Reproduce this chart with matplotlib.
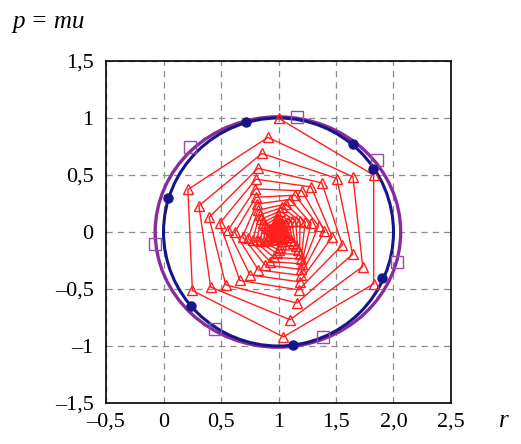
import numpy as np
import matplotlib
matplotlib.use("Agg")
import matplotlib.pyplot as plt
from matplotlib.patches import Circle, Ellipse

# Ejes y etiquetas
x_ticks = [-0.5, 0, 0.5, 1, 1.5, 2.0, 2.5]
x_labels = ["\u20130,5", "0", "0,5", "1", "1,5", "2,0", "2,5"]
y_ticks = [1.5, 1, 0.5, 0, -0.5, -1, -1.5]
y_labels = ["1,5", "1", "0,5", "0", "\u20130,5", "\u20131", "\u20131,5"]

# Trayectoria exacta (circulo) y aproximada (elipse)
circle_center = (1.0, 0.0)
circle_radius = 1.0
ellipse_center = (0.995, 0.0)
ellipse_width = 2.135
ellipse_height = 2.02

# Puntos sobre el circulo (azul)
dots_r = [0.717, 1.645, 1.824, 0.037, 1.900, 0.239, 1.129]
dots_p = [0.967, 0.769, 0.550, 0.296, -0.406, -0.649, -0.991]

# Puntos sobre la elipse (morado)
squares_r = [1.158, 1.854, 0.230, -0.074, 2.028, 0.448, 1.390]
squares_p = [1.011, 0.632, 0.748, -0.105, -0.261, -0.854, -0.918]

# Espiral (rojo), un brazo por cada vertice del hexagono
arm_top = [(1.004, 0.996), (0.908, 0.830), (0.856, 0.690), (0.821, 0.559), (0.803, 0.463),
           (0.799, 0.378), (0.803, 0.304), (0.809, 0.245), (0.821, 0.191), (0.835, 0.149),
           (0.850, 0.113), (0.866, 0.083), (0.883, 0.059), (0.903, 0.039), (0.921, 0.024),
           (0.936, 0.014), (0.948, 0.006), (0.961, 0.001), (0.969, -0.002), (0.978, -0.003)]
arm_upper_right = [(1.828, 0.498), (1.648, 0.483), (1.508, 0.469), (1.377, 0.431), (1.284, 0.396),
                   (1.204, 0.361), (1.144, 0.323), (1.098, 0.285), (1.061, 0.246), (1.034, 0.216),
                   (1.013, 0.183), (0.997, 0.153), (0.987, 0.126), (0.981, 0.099), (0.978, 0.075),
                   (0.978, 0.057), (0.979, 0.043), (0.981, 0.031), (0.983, 0.023), (0.987, 0.015)]
arm_lower_right = [(1.828, -0.455), (1.732, -0.303), (1.645, -0.195), (1.555, -0.114), (1.467, -0.044),
                   (1.400, 0.009), (1.348, 0.055), (1.283, 0.076), (1.232, 0.089), (1.187, 0.095),
                   (1.150, 0.098), (1.115, 0.093), (1.086, 0.086), (1.060, 0.074), (1.040, 0.062),
                   (1.027, 0.053), (1.017, 0.043), (1.009, 0.034), (1.004, 0.026), (1.001, 0.019)]
arm_bottom = [(1.042, -0.920), (1.100, -0.769), (1.159, -0.623), (1.175, -0.507), (1.183, -0.437),
              (1.192, -0.380), (1.197, -0.328), (1.201, -0.279), (1.197, -0.236), (1.183, -0.197),
              (1.166, -0.157), (1.148, -0.122), (1.127, -0.092), (1.105, -0.066), (1.083, -0.044),
              (1.066, -0.026), (1.051, -0.013), (1.038, -0.004), (1.029, 0.002), (1.021, 0.005)]
arm_lower_left = [(0.251, -0.513), (0.410, -0.483), (0.541, -0.463), (0.664, -0.425), (0.751, -0.376),
                  (0.824, -0.332), (0.882, -0.288), (0.926, -0.259), (0.961, -0.223), (0.987, -0.188),
                  (1.004, -0.157), (1.017, -0.131), (1.026, -0.105), (1.031, -0.083), (1.031, -0.061),
                  (1.028, -0.045), (1.024, -0.033), (1.020, -0.024), (1.016, -0.017), (1.012, -0.010)]
arm_upper_left = [(0.212, 0.373), (0.308, 0.230), (0.396, 0.128), (0.489, 0.076), (0.562, 0.017),
                  (0.620, -0.003), (0.687, -0.041), (0.736, -0.055), (0.777, -0.066), (0.812, -0.074),
                  (0.843, -0.079), (0.873, -0.079), (0.900, -0.074), (0.921, -0.066), (0.943, -0.057),
                  (0.956, -0.047), (0.967, -0.038), (0.976, -0.030), (0.983, -0.023), (0.988, -0.017)]

arms = [arm_top, arm_upper_right, arm_lower_right, arm_bottom, arm_lower_left, arm_upper_left]
spiral = [arm[k] for k in range(len(arm_top)) for arm in arms]
spiral_r = [pt[0] for pt in spiral]
spiral_p = [pt[1] for pt in spiral]

fig = plt.figure(figsize=(5.21, 4.44), dpi=100)
ax = fig.add_axes([0.2035, 0.0923, 0.6621, 0.7703])

ax.add_patch(Ellipse(ellipse_center, ellipse_width, ellipse_height, fill=False,
                     edgecolor="#8a2b9c", linewidth=2.4, zorder=3))
ax.add_patch(Circle(circle_center, circle_radius, fill=False,
                    edgecolor="#16168a", linewidth=2.2, zorder=4))

ax.plot(spiral_r, spiral_p, color="#ff1f1f", linewidth=1.0, marker="^", markersize=7.5,
        markerfacecolor="none", markeredgecolor="#ff1f1f", markeredgewidth=1.0, zorder=5)
ax.plot(squares_r, squares_p, linestyle="none", marker="s", markersize=8.5,
        markerfacecolor="none", markeredgecolor="#9a4aae", markeredgewidth=1.0, zorder=4)
ax.plot(dots_r, dots_p, linestyle="none", marker="o", markersize=6.5,
        color="#16168a", zorder=6)

ax.set_xlim(-0.5, 2.5)
ax.set_ylim(-1.5, 1.5)
ax.set_xticks(x_ticks)
ax.set_xticklabels(x_labels)
ax.set_yticks(y_ticks)
ax.set_yticklabels(y_labels)
for lab in ax.get_xticklabels() + ax.get_yticklabels():
    lab.set_fontfamily("Liberation Serif")
    lab.set_fontsize(16)
ax.tick_params(axis="x", length=0, pad=7)
ax.tick_params(axis="y", length=0, pad=9)
ax.grid(True, color="#8c8c8c", linestyle=(0, (5, 4)), linewidth=0.9)
ax.set_axisbelow(True)
for s in ax.spines.values():
    s.set_linewidth(1.2)

fig.text(0.023, 0.95, "p = mu", fontfamily="Liberation Serif", fontstyle="italic",
         fontsize=18, va="center", ha="left")
fig.text(0.968, 0.052, "r", fontfamily="Liberation Serif", fontstyle="italic",
         fontsize=18, va="center", ha="center")

fig.savefig("out.png", dpi=100)
